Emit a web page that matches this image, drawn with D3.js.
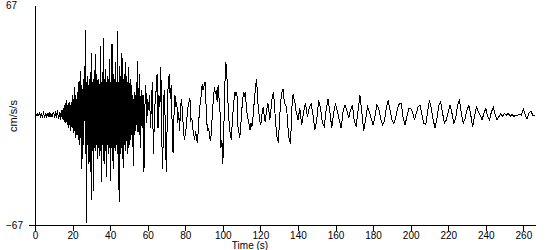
<!DOCTYPE html>
<html lang="en">

<head>
    <meta charset="UTF-8">
    <title>Seismogram</title>
    <script src="https://d3js.org/d3.v7.min.js"></script>
    <style>
        body { margin: 0; background: #fff; }
        svg { display: block; }
        text { font-family: "Liberation Sans", Arial, sans-serif; font-size: 10px; fill: #000; }
    </style>
</head>

<body>
    <svg></svg>
    <script>

        // acceleration in cm/s/s, in four stretches
        // 0 - 14.5 s, every 0.5 s
        const accelOnset = [
            0, 0.5, -0.6, 0.8, -0.5, 1, -1, 0.6, -0.8, 1.2, -1, 0.7, -1.2, 1, -0.6, 1.3, -1.1, 0.9, -1.4, 1.2,
            1.5, -2, 2.5, -1.8, 3, -2.5, 2, -3, 3.2, -2.2
        ];
        // 15 - 54.75 s, every 0.25 s (strong shaking)
        const accelStrong = [
            4, -3, 5, -4, 7, -5, 6, -4, 9, -6,
            5, -8, 7, -6, 8, -10, 6, -7, 8, -6,
            12, -9, 10, -11, 17, -10, 12, -14, 10, -12,
            14, -12, 20, -15, 16, -18, 27, -14, 18, -20,
            -33, 16, -20, 22, -18, 19, 30, -20, 52, -66,
            20, -18, 24, -22, 18, -30, 22, -20, 26, -35,
            38, -52, 20, -22, 22, -46, 18, -20, 37, -22,
            20, -18, 25, -27, 18, -20, 22, -25, 19, -22,
            42, -41, 20, -18, 26, -20, 47, -30, 22, -19,
            28, -22, 20, -38, 24, -18, 22, -24, 34, -20,
            20, -40, 26, -20, 43, -28, 18, -33, 25, -20,
            22, -22, 32, -18, 20, -24, 51, -30, 20, -53,
            30, -20, 24, -24, 38, -20, 35, -27, 22, -32,
            25, -18, 32, -22, 24, -16, 20, -24, 18, -20,
            29, -18, 15, -15, 22, -12, 18, -14, 12, -31,
            10, -12, 14, -8, 12, -10, 20, -6, 33, -10
        ];
        // 55 - 139.5 s, every 0.5 s
        const accelCoda = [
            -10, 25, -20, 15, -8, 12, -35, 5, 18, -5,
            10, 3, 12, -8, 8, 20, -24, -5, 10, 15, 25, -8, 12, 5, 29, -15, -33, 10, 15, -20,
            -35, 8, 20, 25, 10, 18, -5, -23, 0, 12, 5, 8, -5, 2, -10, 5, 10, 2, -8, -15,
            -12, -8, 0, 5, 8, 10, -3, -2, -8, -12, -15, -10, -14, -17, -8, 2, 8, 12, 19, 15,
            18, 20, 8, -5, -10, -8, -14, -16, -8, 2, 10, 17, 13, 15, 8, 18, 10, 2, -20, -15,
            -30, -10, 15, 32, 30, 12, 3, -8, -12, -15, -5, 3, 10, 14, 12, 14, -7, -10, -14, -8,
            2, 8, 14, 12, 14, 5, 0, -3, -6, -9, -5, -7, -2, 5, 12, 18, 22, 10, 3, -2,
            -6, -4, 2, 5, 0, -4, 0, 4, 7, 3, -3, 2, 8, 12, 14, 6, -3, -10, -15, -16,
            -8, 3, 10, 14, 16, 10, 7, 6, 4, -5, -12, -16, -17, -5, 10, 13, 9, 7, 2, 0
        ];
        // 140 - 266 s, every second
        const accelTail = [
            -3, 4, -6, 2, 7, -1, 4, 7, 0, -9,
            -3, 9, 4, -5, -7, 3, 10, 2, -8, 1,
            7, 2, -3, -8, 2, 6, 3, -2, 3, 6,
            -4, -7, 3, 12, 2, -10, -3, 5, 2, -2,
            -6, -1, 6, 4, -2, -6, -4, 4, 9, 3,
            -3, -5, -2, 4, 7, 7, -2, -6, -1, 4,
            4, 2, -3, 1, 5, 6, 0, -5, -6, 2,
            9, 4, -3, -8, -2, 6, 8, 1, -5, -3,
            2, 6, 1, -5, -2, 6, 9, 1, -5, -2,
            3, 6, 0, -7, -1, 5, 2, 0, -3, 1,
            4, -1, -3, 2, 4.5, 0, -3, -1, 1, -1,
            1, 0, 1, -1, 0.5, -1, 0, 0, 0.5, 0,
            3.5, 0, -2.5, 1, 2.5, 0, 0
        ];
        // [start time, sample step] of each stretch
        const stretches = [
            [accelOnset, 0, 0.5],
            [accelStrong, 15, 0.25],
            [accelCoda, 55, 0.5],
            [accelTail, 140, 1]
        ];

        const xTicks = [0, 20, 40, 60, 80, 100, 120, 140, 160, 180, 200, 220, 240, 260];
        const yTicks = [67, -67];
        const yLabel = "cm/s/s";
        const xLabel = "Time (s)";

        const width = 550, height = 250;

        const points = stretches.flatMap(([vals, t0, dt]) => vals.map((v, i) => [t0 + i * dt, v]));

        const x = d3.scaleLinear().domain([0, 266.2]).range([35, 535]);
        const y = d3.scaleLinear().domain([-67, 67]).range([225, 5]);

        const svg = d3.select("svg")
            .attr("width", width)
            .attr("height", height)
            .attr("shape-rendering", "crispEdges");

        // trace
        svg.append("path")
            .datum(points)
            .attr("fill", "none")
            .attr("stroke", "#000")
            .attr("stroke-width", 1)
            .attr("d", d3.line().x(d => x(d[0])).y(d => y(d[1])));

        // x axis
        const gx = svg.append("g")
            .attr("transform", `translate(0,${y(-67)})`)
            .call(d3.axisBottom(x).tickValues(xTicks).tickSize(6).tickSizeOuter(0));
        gx.selectAll("text").attr("y", 7);

        // y axis, labels left aligned
        const gy = svg.append("g")
            .attr("transform", `translate(${x(0)},0)`)
            .call(d3.axisLeft(y).tickValues(yTicks).tickSize(6).tickSizeOuter(0));
        gy.selectAll(".tick").filter(d => d > 0).select("line").remove();
        gy.selectAll("text")
            .attr("text-anchor", "start")
            .attr("x", -29);

        svg.selectAll(".domain, .tick line").attr("stroke", "#000");
        svg.selectAll("g").attr("font-family", null).attr("font-size", null);

        svg.append("text")
            .attr("x", 250)
            .attr("y", 249)
            .attr("text-anchor", "middle")
            .text(xLabel);

        svg.append("text")
            .attr("transform", "translate(17,116) rotate(-90)")
            .attr("text-anchor", "middle")
            .style("font-size", "11px")
            .text(yLabel);

    </script>
</body>

</html>
